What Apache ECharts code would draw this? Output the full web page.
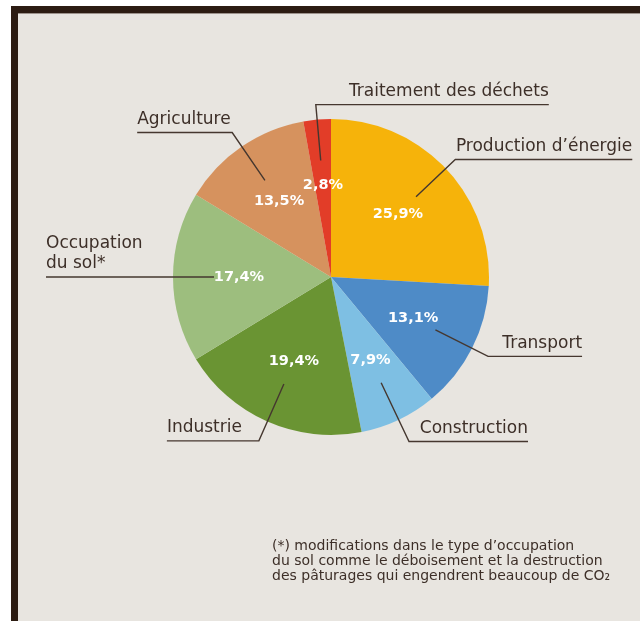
<!DOCTYPE html>
<html>
<head>
<meta charset="utf-8">
<script src="https://cdn.jsdelivr.net/npm/echarts@6/dist/echarts.min.js"></script>
<style>
  html, body { margin: 0; padding: 0; background: #ffffff; width: 640px; height: 621px; overflow: hidden; }
  #panel {
    position: absolute; left: 11px; top: 6px; width: 629px; height: 615px;
    box-sizing: border-box; background: #E8E5E0;
    border-top: 7px solid #2C1C12; border-left: 7px solid #2C1C12;
    box-shadow: inset 0 1px 0 #9C928B;
  }
  #chart { position: absolute; left: 0; top: 0; width: 640px; height: 621px; }
</style>
</head>
<body>
<div id="panel"></div>
<div id="chart"></div>
<script>
// Sources of emissions, share of the total (%), clockwise from 12 o'clock
const categories = [
  'Production d’énergie',
  'Transport',
  'Construction',
  'Industrie',
  'Occupation\ndu sol*',
  'Agriculture',
  'Traitement des déchets'
];
const shares = [25.9, 13.1, 7.9, 19.4, 17.4, 13.5, 2.8];

const sliceColors = ['#F6B30A', '#4E8BC7', '#7EBFE3', '#6A9433', '#9DBE7E', '#D6925E', '#E23D28'];

const footnoteLines = [
  '(*) modifications dans le type d’occupation',
  'du sol comme le déboisement et la destruction',
  'des pâturages qui engendrent beaucoup de CO₂'
];

// Leader lines: radial run from the slice, then an underline below the name
const leaderSpec = [
  { length: 54, length2: 177 },
  { length: 59, length2: 94 },
  { length: 65, length2: 119 },
  { length: 62, length2: 92 },
  { length: 1, length2: 167 },
  { length: 58, length2: 95 },
  { length: 56, length2: 233, flip: true }
];

const CENTER = [331, 277];
const R = 158;
const TEXT = '#3D2F28';
const LINE = '#45372F';

const pctText = i => shares[i].toFixed(1).replace('.', ',') + '%';

const chart = echarts.init(document.getElementById('chart'), null, { renderer: 'canvas' });

chart.setOption({
  backgroundColor: 'transparent',
  animation: false,
  title: {
    text: footnoteLines.join('\n'),
    left: 272,
    top: 539,
    padding: 0,
    textStyle: {
      fontFamily: 'DejaVu Sans',
      fontSize: 14,
      fontWeight: 'normal',
      lineHeight: 15,
      color: TEXT
    }
  },
  series: [
    {
      // filled slices
      type: 'pie',
      z: 2,
      center: CENTER,
      radius: [0, R],
      startAngle: 90,
      clockwise: true,
      silent: true,
      avoidLabelOverlap: false,
      label: { show: false },
      labelLine: { show: false },
      itemStyle: { borderWidth: 0 },
      data: categories.map((c, i) => ({
        name: c, value: shares[i], itemStyle: { color: sliceColors[i] }
      }))
    },
    {
      // category names with leader lines
      type: 'pie',
      z: 6,
      center: CENTER,
      radius: [0, 117],
      startAngle: 90,
      clockwise: true,
      silent: true,
      avoidLabelOverlap: false,
      itemStyle: { color: 'transparent', borderWidth: 0 },
      label: {
        show: true,
        position: 'outside',
        overflow: 'none',
        formatter: p => categories[p.dataIndex],
        color: TEXT,
        fontFamily: 'DejaVu Sans',
        fontSize: 17,
        lineHeight: 20
      },
      labelLine: {
        show: true,
        smooth: false,
        lineStyle: { color: LINE, width: 1.4 }
      },
      labelLayout: function (params) {
        const pts = params.labelLinePoints;
        if (!pts || pts.length < 3) return {};
        const spec = leaderSpec[params.dataIndex];
        const p0 = pts[0];
        const p1 = pts[1];
        let p2 = pts[2];
        if (spec.flip) p2 = [2 * p1[0] - p2[0], p2[1]];
        const rightward = p2[0] > p1[0];
        return {
          x: p2[0],
          y: p2[1] - 3,
          align: rightward ? 'right' : 'left',
          verticalAlign: 'bottom',
          labelLinePoints: [p0, p1, p2]
        };
      },
      data: categories.map((c, i) => ({
        name: c,
        value: shares[i],
        labelLine: { length: leaderSpec[i].length, length2: leaderSpec[i].length2 }
      }))
    },
    {
      // percentage labels inside the slices
      type: 'pie',
      z: 8,
      center: CENTER,
      radius: [0, 178],
      startAngle: 90,
      clockwise: true,
      silent: true,
      avoidLabelOverlap: false,
      itemStyle: { color: 'transparent', borderWidth: 0 },
      labelLine: { show: false },
      label: {
        show: true,
        position: 'inside',
        overflow: 'none',
        formatter: p => pctText(p.dataIndex),
        color: '#ffffff',
        fontFamily: 'DejaVu Sans',
        fontWeight: 'bold',
        fontSize: 14.5
      },
      data: categories.map((c, i) => ({ name: c, value: shares[i] }))
    }
  ]
});
</script>
</body>
</html>
